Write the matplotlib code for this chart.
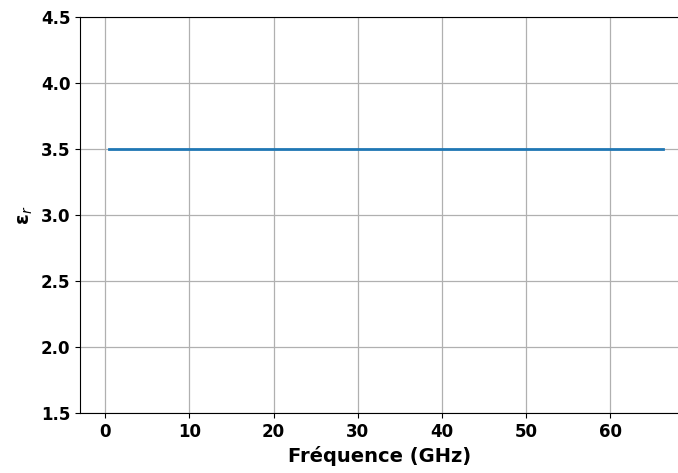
import matplotlib
matplotlib.use("Agg")
import matplotlib.pyplot as plt

# Données
frequence_ghz = [0.5, 10, 20, 30, 40, 50, 60, 66.3]
epsilon_r = [3.5, 3.5, 3.5, 3.5, 3.5, 3.5, 3.5, 3.5]

xticks = [0, 10, 20, 30, 40, 50, 60]
yticks = [1.5, 2.0, 2.5, 3.0, 3.5, 4.0, 4.5]

fig = plt.figure(figsize=(6.78, 4.73), dpi=100)
ax = fig.add_axes([0.118, 0.127, 0.885, 0.837])

ax.plot(frequence_ghz, epsilon_r, color='#1f77b4', linewidth=2)

ax.set_xlim(-3.0, 68.3)
ax.set_ylim(1.5, 4.5)
ax.set_xticks(xticks)
ax.set_yticks(yticks)
ax.set_xticklabels([str(t) for t in xticks], fontsize=12, fontweight='bold')
ax.set_yticklabels([f'{t:.1f}' for t in yticks], fontsize=12, fontweight='bold')
ax.grid(True, color='#b0b0b0', linewidth=0.9)
ax.set_axisbelow(True)

ax.set_xlabel('Fréquence (GHz)', fontsize=14, fontweight='bold')
ax.set_ylabel(r'$\mathbf{\epsilon}_r$', fontsize=14)

fig.savefig('out.png', dpi=100, facecolor='white')
